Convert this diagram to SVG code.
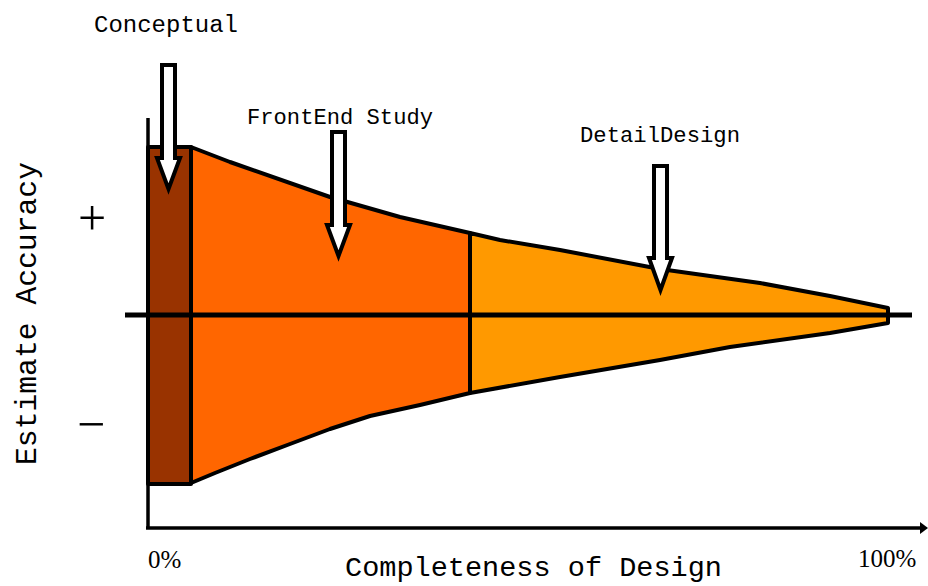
<svg xmlns="http://www.w3.org/2000/svg" width="928" height="586" viewBox="0 0 928 586">
<style>
.lbl{font-family:"Liberation Mono","Courier New",monospace;fill:#000}
.pct{font-family:"Liberation Serif","Times New Roman",serif;fill:#000;font-size:25px}
.edge{stroke:#000;stroke-width:4;stroke-linejoin:round}
.arr{fill:#fff;stroke:#000;stroke-width:4;stroke-linejoin:miter}
.axis{stroke:#000;stroke-width:3.5;fill:none}
.sign{font-family:"Liberation Serif","Times New Roman",serif;fill:#000;font-size:50px}
</style>
<rect width="928" height="586" fill="#fff"/>
<g id="axes" class="connectors">
<line class="axis" x1="148" y1="118" x2="148" y2="529"/>
<line class="axis" x1="146" y1="528" x2="921" y2="528"/>
<polygon points="920,522 928,528 920,534" fill="#000"/>
</g>
<g id="conceptual-region">
<rect x="148" y="147" width="43" height="337" fill="#993300" class="edge"/>
</g>
<g id="frontend-region">
<path d="M191,147 L230,162 L330,197 L400,217 L470,233 L470,393 L420,405 L370,416 L330,429 L290,444 L250,459 L215,473 L191,483 Z" fill="#ff6600" class="edge"/>
</g>
<g id="detail-region">
<path d="M470,233 L500,240 L560,250 L660,269 L760,283 L830,296 L888,308 L888,323 L830,333 L730,347 L660,360 L560,377 L470,393 Z" fill="#ff9900" class="edge"/>
</g>
<g id="centerline" class="connectors">
<line x1="125" y1="315" x2="912" y2="315" stroke="#000" stroke-width="5"/>
</g>
<g id="arrow-conceptual">
<path class="arr" d="M162,65 L175,65 L175,158 L180,158 L168.5,189 L157,158 L162,158 Z"/>
<text class="lbl" x="94" y="32" font-size="23" textLength="144" lengthAdjust="spacingAndGlyphs">Conceptual</text>
</g>
<g id="arrow-frontend">
<path class="arr" d="M332,132 L345,132 L345,225 L350,225 L338.5,256 L327,225 L332,225 Z"/>
<text class="lbl" x="247" y="124" font-size="22" textLength="186" lengthAdjust="spacingAndGlyphs">FrontEnd Study</text>
</g>
<g id="arrow-detail">
<path class="arr" d="M654,166 L667,166 L667,258 L672,258 L660.5,290 L649,258 L654,258 Z"/>
<text class="lbl" x="580" y="142" font-size="22" textLength="160" lengthAdjust="spacingAndGlyphs">DetailDesign</text>
</g>
<g id="y-labels">
<text class="lbl" transform="translate(36,465) rotate(-90)" font-size="30" textLength="303" lengthAdjust="spacingAndGlyphs">Estimate Accuracy</text>
<text class="sign" x="92" y="235" text-anchor="middle">+</text>
<text class="sign" x="91" y="441" text-anchor="middle">−</text>
</g>
<g id="x-labels">
<text class="pct" x="148" y="568">0%</text>
<text class="pct" x="858" y="567">100%</text>
<text class="lbl" x="345" y="576" font-size="27" textLength="377" lengthAdjust="spacingAndGlyphs">Completeness of Design</text>
</g>
</svg>
